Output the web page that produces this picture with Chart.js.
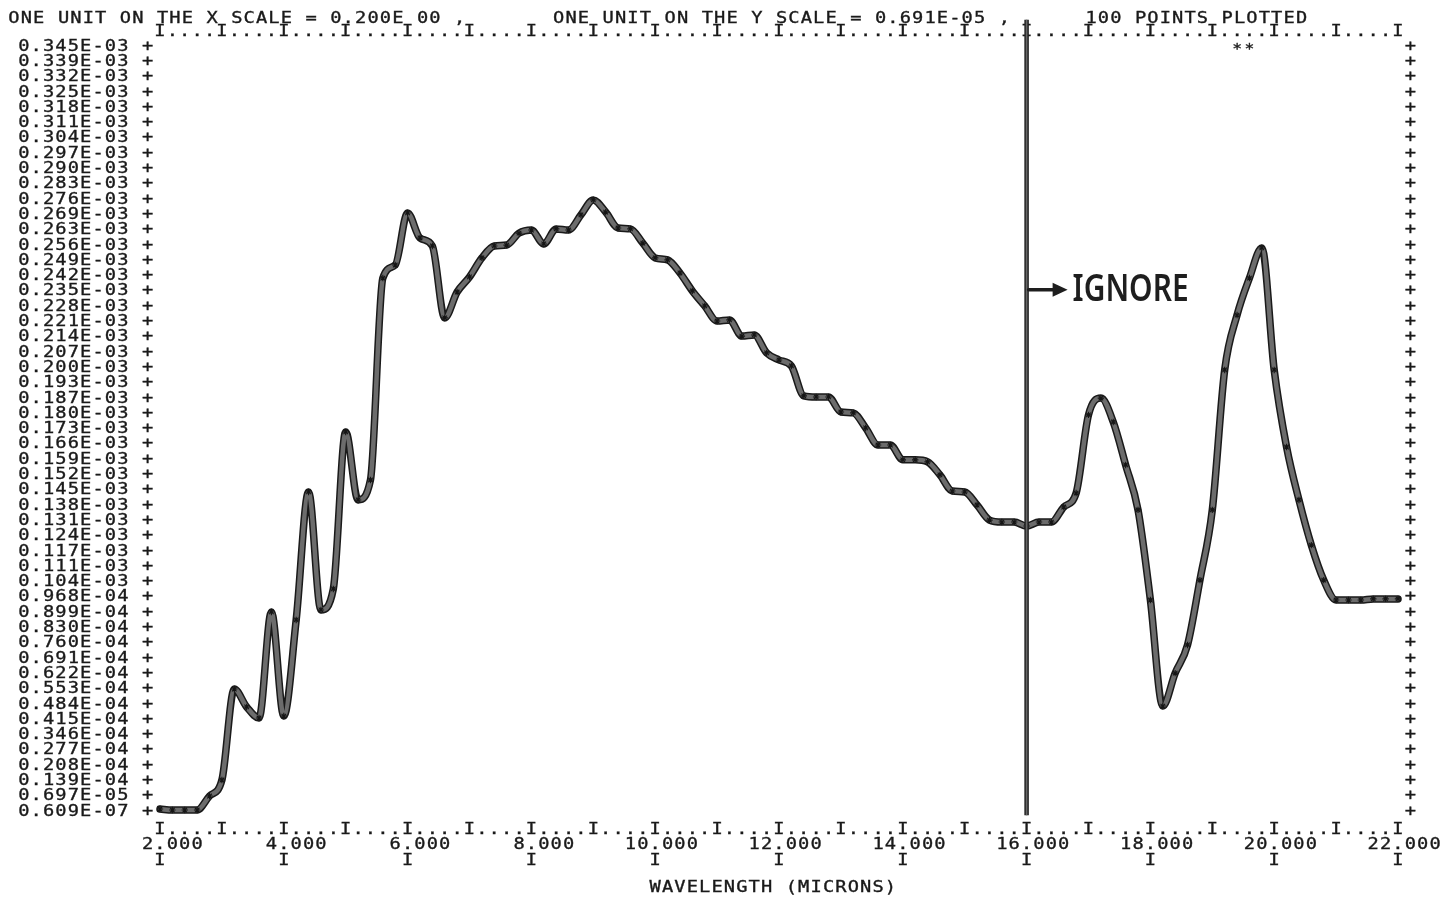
<!DOCTYPE html>
<html>
<head>
<meta charset="utf-8">
<title>Wavelength plot</title>
<script src="https://cdn.jsdelivr.net/npm/chart.js@4.4.1/dist/chart.umd.min.js"></script>
<style>
  body { margin: 0; background: #fff; }
  #wrap { width: 1449px; height: 900px; position: relative; }
</style>
</head>
<body>
<div id="wrap"><canvas id="plot"></canvas></div>
<script>
// wavelength in microns, one printer column = 0.2
const wavelength = [
  2.0, 2.2, 2.4, 2.6, 2.8, 3.0, 3.2, 3.4, 3.6, 3.8,
  4.0, 4.2, 4.4, 4.6, 4.8, 5.0, 5.2, 5.4, 5.6, 5.8,
  6.0, 6.2, 6.4, 6.6, 6.8, 7.0, 7.2, 7.4, 7.6, 7.8,
  8.0, 8.2, 8.4, 8.6, 8.8, 9.0, 9.2, 9.4, 9.6, 9.8,
  10.0, 10.2, 10.4, 10.6, 10.8, 11.0, 11.2, 11.4, 11.6, 11.8,
  12.0, 12.2, 12.4, 12.6, 12.8, 13.0, 13.2, 13.4, 13.6, 13.8,
  14.0, 14.2, 14.4, 14.6, 14.8, 15.0, 15.2, 15.4, 15.6, 15.8,
  16.0, 16.2, 16.4, 16.6, 16.8, 17.0, 17.2, 17.4, 17.6, 17.8,
  18.0, 18.2, 18.4, 18.6, 18.8, 19.0, 19.2, 19.4, 19.6, 19.8,
  20.0, 20.2, 20.4, 20.6, 20.8, 21.0, 21.2, 21.4, 21.6, 21.8,
  22.0, 22.2
];

// values in units of 1E-03
const signalE03 = [
  0.00051, 0.00006, 0.00006, 0.00006, 0.00638, 0.0136, 0.0547, 0.0466, 0.0416, 0.0895,
  0.0425, 0.0859, 0.1437, 0.0904, 0.0999, 0.1708, 0.1401, 0.1491, 0.2403, 0.2462,
  0.2697, 0.2584, 0.2548, 0.2223, 0.2340, 0.2408, 0.2494, 0.2548, 0.2552, 0.2606,
  0.2620, 0.2557, 0.2625, 0.2620, 0.2688, 0.2756, 0.2701, 0.2629, 0.2625, 0.2561,
  0.2494, 0.2485, 0.2426, 0.2345, 0.2277, 0.2209, 0.2214, 0.2141, 0.2146, 0.2065,
  0.2033, 0.2006, 0.1871, 0.1866, 0.1866, 0.1798, 0.1794, 0.1726, 0.1649, 0.1649,
  0.1582, 0.1582, 0.1573, 0.1514, 0.1441, 0.1437, 0.1378, 0.1310, 0.1301, 0.1301,
  0.1283, 0.1301, 0.1301, 0.1369, 0.1432, 0.1785, 0.1861, 0.1753, 0.1559, 0.1356,
  0.0949, 0.0470, 0.0619, 0.0746, 0.1039, 0.1356, 0.1988, 0.2236, 0.2403, 0.2539,
  0.1988, 0.1640, 0.1401, 0.1197, 0.1039, 0.0949, 0.0949, 0.0949, 0.0954, 0.0954,
  0.0954, 0.0949
];

// printed y labels, top row first
const yTickLabels = [
  '0.345E-03', '0.339E-03', '0.332E-03', '0.325E-03', '0.318E-03', '0.311E-03',
  '0.304E-03', '0.297E-03', '0.290E-03', '0.283E-03', '0.276E-03', '0.269E-03',
  '0.263E-03', '0.256E-03', '0.249E-03', '0.242E-03', '0.235E-03', '0.228E-03',
  '0.221E-03', '0.214E-03', '0.207E-03', '0.200E-03', '0.193E-03', '0.187E-03',
  '0.180E-03', '0.173E-03', '0.166E-03', '0.159E-03', '0.152E-03', '0.145E-03',
  '0.138E-03', '0.131E-03', '0.124E-03', '0.117E-03', '0.111E-03', '0.104E-03',
  '0.968E-04', '0.899E-04', '0.830E-04', '0.760E-04', '0.691E-04', '0.622E-04',
  '0.553E-04', '0.484E-04', '0.415E-04', '0.346E-04', '0.277E-04', '0.208E-04',
  '0.139E-04', '0.697E-05', '0.609E-07'
];

const xTickValues = [2, 4, 6, 8, 10, 12, 14, 16, 18, 20, 22];
const xTickLabels = ['2.000', '4.000', '6.000', '8.000', '10.000', '12.000',
                     '14.000', '16.000', '18.000', '20.000', '22.000'];

const headerText = 'ONE UNIT ON THE X SCALE = 0.200E 00 ,       ONE UNIT ON THE Y SCALE = 0.691E-05 ,      100 POINTS PLOTTED';
const xTitle = 'WAVELENGTH (MICRONS)';
const noteText = 'IGNORE';

const yMin = 0.0000609;   // E-03
const yStep = 0.00691;    // one printer line
const yRows = yTickLabels.length - 1;
const yMax = yMin + yRows * yStep;

const ignoreX = 16.0;
const ignoreTop = 0.357;
const ignoreBottom = -0.0023;
const noteRow = 0.235;

const curve = wavelength.map((w, i) => ({ x: w, y: signalE03[i] }));

const FONT = '"DejaVu Sans Mono", "Liberation Mono", monospace';
const INK = '#1a1a1a';

function drawChar(ctx, ch, cx, cy) {
  if (ch === ' ') return;
  ctx.save();
  ctx.translate(cx, cy + 1.5);   // 'middle' sits a bit high for capitals
  ctx.scale(1.17, 1);
  ctx.fillText(ch, 0, 0);
  ctx.strokeText(ch, 0, 0);
  ctx.restore();
}

// draw a string, one glyph per printer column, starting at column centre x0
function drawRow(ctx, str, x0, cy, pitch) {
  for (let i = 0; i < str.length; i++) {
    drawChar(ctx, str[i], x0 + i * pitch, cy);
  }
}

const printerText = {
  id: 'printerText',
  beforeDatasetsDraw(chart) {
    const { ctx, scales: { x, y } } = chart;
    const pitch = x.getPixelForValue(2.2) - x.getPixelForValue(2.0);
    const x2 = x.getPixelForValue(2.0);
    const top = y.getPixelForValue(yMax);
    const bottom = y.getPixelForValue(yMin);

    ctx.save();
    ctx.fillStyle = INK;
    ctx.strokeStyle = INK;
    ctx.lineWidth = 0.35;
    ctx.font = '16px ' + FONT;
    ctx.textAlign = 'center';
    ctx.textBaseline = 'middle';

    // header line
    drawRow(ctx, headerText, 14, top - 28, pitch);

    // frame rows I....I
    let frame = '';
    for (let k = 0; k <= 100; k++) frame += (k % 5 === 0) ? 'I' : '.';
    drawRow(ctx, frame, x2, top - 15, pitch);
    drawRow(ctx, frame, x2, bottom + 18, pitch);

    // y labels with + on both sides
    yTickLabels.forEach((lab, i) => {
      const py = y.getPixelForValue(yMin + (yRows - i) * yStep);
      drawRow(ctx, lab, x2 - 11 * pitch, py, pitch);
      drawChar(ctx, '+', x.getPixelForValue(1.8), py);
      drawChar(ctx, '+', x.getPixelForValue(22.2), py);
    });

    // x labels, decimal point on the tick column
    xTickValues.forEach((v, i) => {
      const lab = xTickLabels[i];
      const dot = lab.indexOf('.');
      const px = x.getPixelForValue(v);
      drawRow(ctx, lab, px - dot * pitch, bottom + 33, pitch);
      drawChar(ctx, 'I', px, bottom + 49);
    });

    // axis title
    drawRow(ctx, xTitle, x.getPixelForValue(10.0), bottom + 76, pitch);

    // stray stars on the top line
    ctx.font = '14px ' + FONT;
    drawChar(ctx, '*', x.getPixelForValue(19.4), top + 3);
    drawChar(ctx, '*', x.getPixelForValue(19.6), top + 3);
    ctx.restore();
  },
  afterDatasetsDraw(chart) {
    const { ctx, scales: { x, y } } = chart;
    const ax = x.getPixelForValue(ignoreX);
    const ay = y.getPixelForValue(noteRow);
    ctx.save();
    ctx.strokeStyle = '#1e1e1e';
    ctx.fillStyle = '#1e1e1e';
    ctx.lineWidth = 3.5;
    ctx.lineCap = 'round';
    ctx.beginPath();
    ctx.moveTo(ax + 2, ay);
    ctx.lineTo(ax + 30, ay);
    ctx.stroke();
    ctx.beginPath();
    ctx.moveTo(ax + 26, ay - 7);
    ctx.lineTo(ax + 41, ay);
    ctx.lineTo(ax + 26, ay + 7);
    ctx.closePath();
    ctx.fill();

    ctx.font = '600 37px "Noto Sans", "DejaVu Sans", sans-serif';
    ctx.textAlign = 'left';
    ctx.textBaseline = 'middle';
    const w = ctx.measureText(noteText).width;
    ctx.translate(ax + 46, ay + 1);
    ctx.scale(116 / w, 1);
    ctx.fillText(noteText, 0, 0);
    ctx.restore();
  }
};

new Chart(document.getElementById('plot'), {
  type: 'line',
  data: {
    datasets: [
      {
        label: 'ignore line',
        data: [{ x: ignoreX, y: ignoreTop }, { x: ignoreX, y: ignoreBottom }],
        borderColor: '#666',
        borderWidth: 1.6,
        pointRadius: 0,
        clip: false,
        order: 0
      },
      {
        label: 'ignore line edge',
        data: [{ x: ignoreX, y: ignoreTop }, { x: ignoreX, y: ignoreBottom }],
        borderColor: '#222',
        borderWidth: 4.5,
        pointRadius: 0,
        clip: false,
        order: 1
      },
      {
        label: 'signal',
        data: curve,
        borderColor: '#6c6c6c',
        borderWidth: 4.5,
        borderJoinStyle: 'round',
        borderCapStyle: 'round',
        cubicInterpolationMode: 'monotone',
        pointStyle: 'star',
        pointRadius: 3.2,
        pointBorderWidth: 1.1,
        pointBorderColor: '#151515',
        pointBackgroundColor: '#151515',
        clip: false,
        order: 2
      },
      {
        label: 'signal edge',
        data: curve,
        borderColor: '#1a1a1a',
        borderWidth: 7.5,
        borderJoinStyle: 'round',
        borderCapStyle: 'round',
        cubicInterpolationMode: 'monotone',
        pointRadius: 0,
        clip: false,
        order: 3
      }
    ]
  },
  options: {
    responsive: true,
    maintainAspectRatio: false,
    animation: false,
    events: [],
    layout: { padding: { left: 160, right: 51, top: 45, bottom: 90 } },
    plugins: { legend: { display: false }, tooltip: { enabled: false } },
    scales: {
      x: { type: 'linear', min: 2, max: 22, display: false },
      y: { type: 'linear', min: yMin, max: yMax, display: false }
    }
  },
  plugins: [printerText]
});
</script>
</body>
</html>
